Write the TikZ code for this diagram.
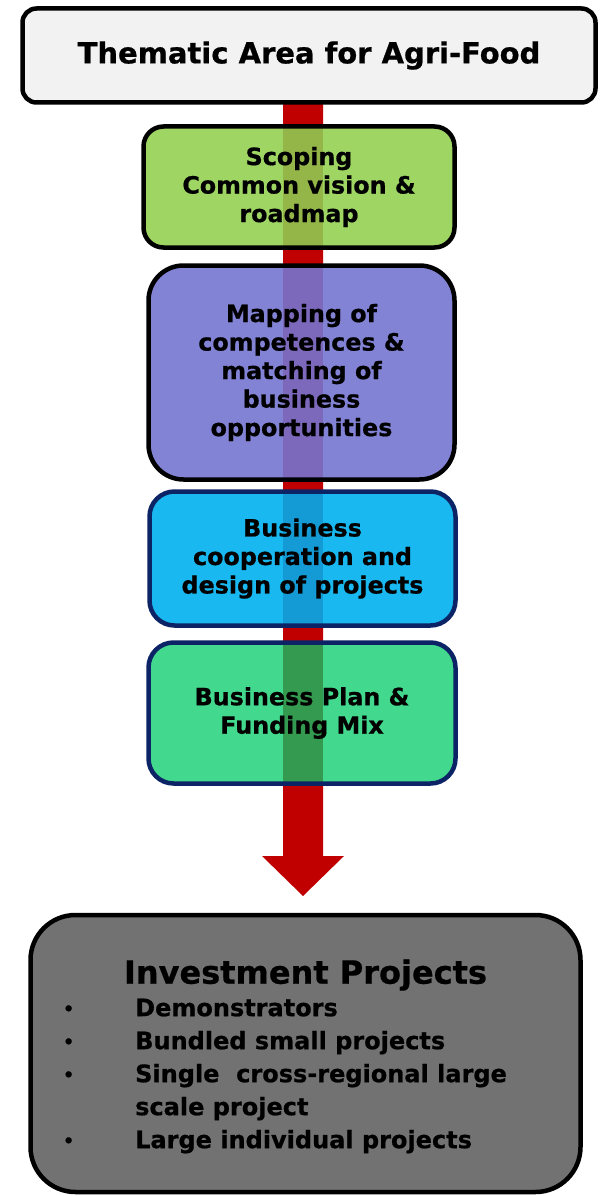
\documentclass[tikz,border=0pt]{standalone}
\usepackage{fontspec}
\setmainfont[BoldFeatures={FakeBold=0.7}]{DejaVu Sans}
\definecolor{topgray}{HTML}{F2F2F2}
\definecolor{gone}{HTML}{9FD563}
\definecolor{gones}{HTML}{94B548}
\definecolor{purp}{HTML}{8383D6}
\definecolor{purps}{HTML}{7C69BB}
\definecolor{blu}{HTML}{19B8F0}
\definecolor{blus}{HTML}{149BD6}
\definecolor{gtwo}{HTML}{42D98E}
\definecolor{gtwos}{HTML}{339A4F}
\definecolor{navy}{HTML}{0C2466}
\definecolor{invgray}{HTML}{727272}
\definecolor{barred}{HTML}{C00000}
\begin{document}
\begin{tikzpicture}[x=1pt,y=-1pt,
  box/.style={draw, line width=4.5pt, rounded corners=#1, inner sep=0pt, align=center,
    font=\bfseries\fontsize{23.8}{28.5}\selectfont},
  box/.default=20,
  strip/.style={path picture={\fill[#1, sharp corners] (barL |- path picture bounding box.north) rectangle (barR |- path picture bounding box.south);}}
]
\useasboundingbox (0,0) rectangle (606,1196);
\coordinate (barL) at (283,0);
\coordinate (barR) at (323,0);
% red block arrow
\fill[barred] (283,95) -- (323,95) -- (323,856) -- (344,856) -- (303,896) -- (262,856) -- (283,856) -- cycle;

\node[box=14, fill=topgray, minimum width=573pt, minimum height=94pt,
      font=\bfseries\fontsize{29}{34}\selectfont] (top) at (309,55.5) {Thematic Area for Agri-Food};

\node[box=20, fill=gone, strip=gones, minimum width=311pt, minimum height=121pt] (scope) at (299,187)
  {Scoping\\Common vision \&\\roadmap};

\node[box=35, fill=purp, strip=purps, minimum width=306pt, minimum height=214pt] (map) at (301.5,372.5)
  {Mapping of\\competences \&\\matching of\\business\\opportunities};

\node[box=25, draw=navy, fill=blu, strip=blus, minimum width=306pt, minimum height=134pt] (coop) at (302.5,558.5)
  {Business\\cooperation and\\design of projects};

\node[box=25, draw=navy, fill=gtwo, strip=gtwos, minimum width=307pt, minimum height=141pt] (plan) at (302,713)
  {Business Plan \&\\Funding Mix};

\node[box=45, fill=invgray, minimum width=550pt, minimum height=277pt] (inv) at (305.5,1053.5) {};
\node[font=\bfseries\fontsize{32}{38}\selectfont, inner sep=0pt] (invt) at (305.5,975) {Investment Projects};
\newcommand{\mybul}{\makebox[72pt][l]{\raisebox{1.5pt}{\fontsize{17}{17}\selectfont\textbullet}}}
\node[align=left, anchor=west, inner sep=0pt, font=\bfseries\fontsize{24}{33}\selectfont] (list) at (63,1076)
  {\mybul Demonstrators\\
   \mybul Bundled small projects\\
   \mybul Single\ \ cross-regional large\\
   \hspace*{72pt}scale project\\
   \mybul Large individual projects};
\end{tikzpicture}
\end{document}
